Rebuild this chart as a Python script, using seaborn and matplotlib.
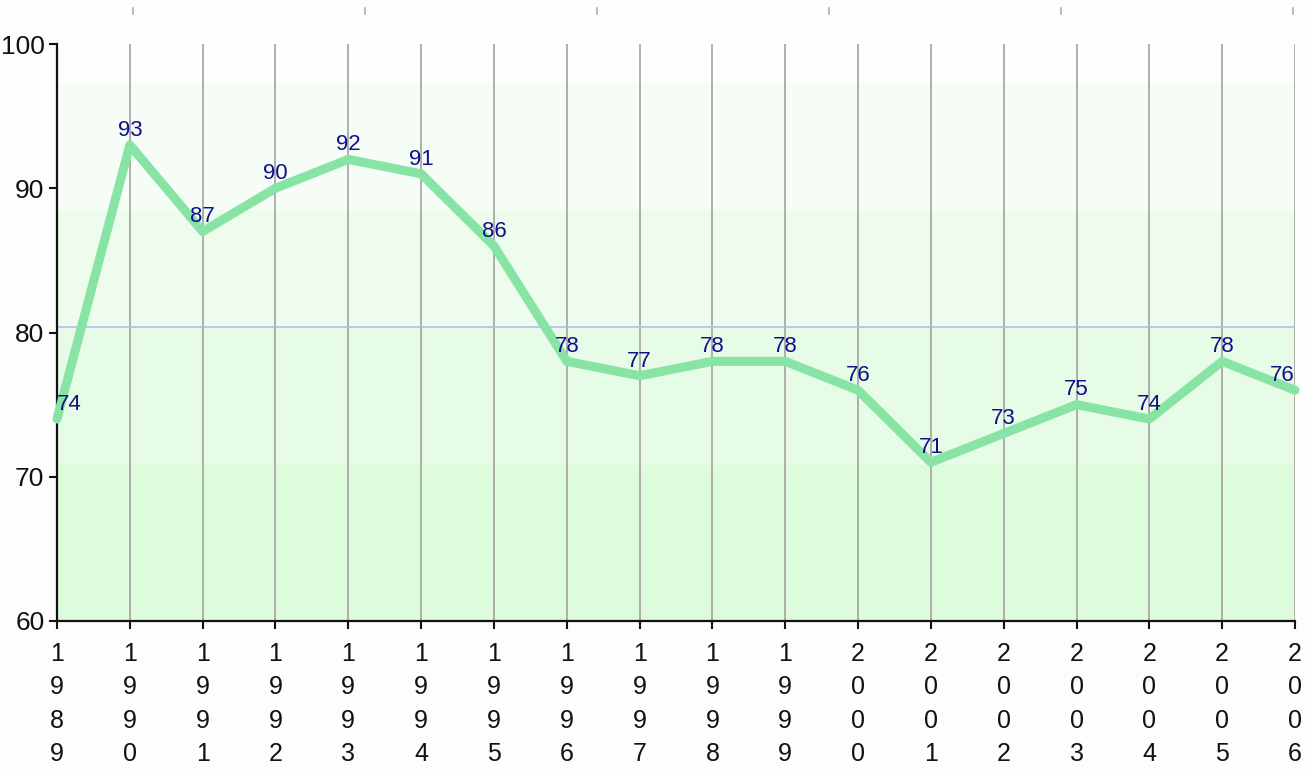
import matplotlib
matplotlib.use("Agg")
import matplotlib.pyplot as plt
from matplotlib import font_manager
import seaborn as sns
import pandas as pd
import numpy as np

years = [1989, 1990, 1991, 1992, 1993, 1994, 1995, 1996, 1997, 1998,
         1999, 2000, 2001, 2002, 2003, 2004, 2005, 2006]
values = [74, 93, 87, 90, 92, 91, 86, 78, 77, 78, 78, 76, 71, 73, 75, 74, 78, 76]
y_ticks = [60, 70, 80, 90, 100]
band_edges = [60, 70.8, 80.4, 88.5, 97.2, 100]
band_colors = ["#dcfcdc", "#e6fce6", "#eefcee", "#f6fdf6", "#fdfdfd"]

sns.set_theme(style="white")
names = {f.name for f in font_manager.fontManager.ttflist}
fam = "Liberation Sans Narrow" if "Liberation Sans Narrow" in names else "Liberation Sans"
plt.rcParams["font.family"] = [fam, "DejaVu Sans"]

df = pd.DataFrame({"year": years, "value": values})

fig = plt.figure(figsize=(13.1, 7.7), dpi=100)
ax = fig.add_axes([57 / 1310, 1 - 621 / 770, (1295 - 57) / 1310, (621 - 44) / 770])
ax.set_xlim(years[0], years[-1])
ax.set_ylim(y_ticks[0], y_ticks[-1])

for lo, hi, c in zip(band_edges[:-1], band_edges[1:], band_colors):
    ax.axhspan(lo, hi, color=c, lw=0, zorder=0)

for yr in years:
    ax.axvline(yr, color="#a8a8a8", lw=1.3, zorder=1)

mean_val = float(np.mean(values))
ax.axhline(mean_val, color="#b4bcf4", lw=1.2, zorder=2)

sns.lineplot(data=df, x="year", y="value", ax=ax, color="#88e4a4", lw=6.5,
             zorder=3, clip_on=False)

for i, (yr, v) in enumerate(zip(years, values)):
    ha = "center"
    if i == 0:
        ha = "left"
    elif i == len(years) - 1:
        ha = "right"
    ax.annotate(str(v), (yr, v), xytext=(0, 3), textcoords="offset points",
                ha=ha, va="bottom", color="#10108a", fontsize=16, zorder=4)

ax.set_xticks(years)
ax.set_xticklabels(["\n".join(str(y)) for y in years], fontsize=18,
                   color="#111111", linespacing=1.5)
ax.set_yticks(y_ticks)
ax.set_yticklabels([str(t) for t in y_ticks], fontsize=19, color="#111111")
ax.tick_params(axis="both", direction="out", length=6, width=1.5, color="#111111",
               bottom=True, left=True, pad=3)
ax.tick_params(axis="x", pad=9)

for s in ["top", "right"]:
    ax.spines[s].set_visible(False)
for s in ["left", "bottom"]:
    ax.spines[s].set_color("#111111")
    ax.spines[s].set_linewidth(1.6)
ax.set_xlabel("")
ax.set_ylabel("")

# small decorative ticks along the top edge
for xp in [133, 365, 597, 829, 1061, 1293]:
    fig.add_artist(plt.Line2D([xp / 1310, xp / 1310], [1 - 8 / 770, 1 - 14 / 770],
                              color="#bbbbbb", lw=1.5))

fig.savefig("out.png", dpi=100, facecolor="#fdfdfd")
